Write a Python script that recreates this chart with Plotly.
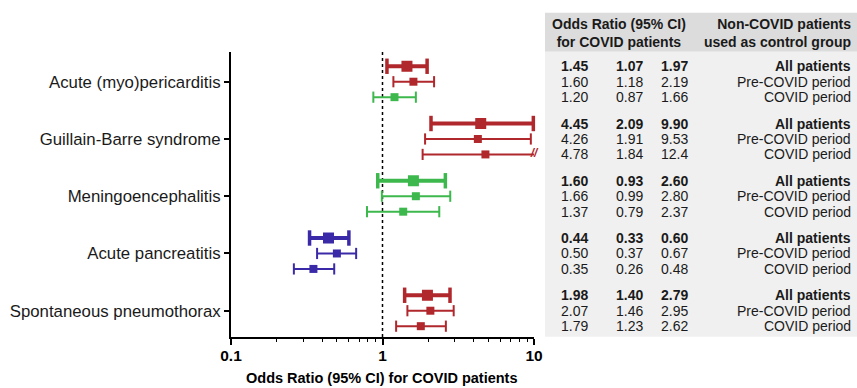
import plotly.graph_objects as go
import math

# ---------------- data ----------------
categories = ["Acute (myo)pericarditis", "Guillain-Barre syndrome", "Meningoencephalitis",
              "Acute pancreatitis", "Spontaneous pneumothorax"]
control_groups = ["All patients", "Pre-COVID period", "COVID period"]

or_all = [1.45, 4.45, 1.60, 0.44, 1.98]
lo_all = [1.07, 2.09, 0.93, 0.33, 1.40]
hi_all = [1.97, 9.90, 2.60, 0.60, 2.79]

or_pre = [1.60, 4.26, 1.66, 0.50, 2.07]
lo_pre = [1.18, 1.91, 0.99, 0.37, 1.46]
hi_pre = [2.19, 9.53, 2.80, 0.67, 2.95]

or_cov = [1.20, 4.78, 1.37, 0.35, 1.79]
lo_cov = [0.87, 1.84, 0.79, 0.26, 1.23]
hi_cov = [1.66, 12.4, 2.37, 0.48, 2.62]

x_ticks = [0.1, 1, 10]
x_tick_labels = ["0.1", "1", "10"]
minor_ticks = [0.2, 0.3, 0.4, 0.5, 0.6, 0.7, 0.8, 0.9, 2, 3, 4, 5, 6, 7, 8, 9]

# ---------------- layout constants ----------------
W, H = 857, 388
XMIN, XMAX = 0.1, 10
Y_TOP, Y_BOT = -0.519, 4.459
OFFSETS = [-0.27, 0.0, 0.27]
RED, GREEN, BLUE = "#b0272c", "#3cb84c", "#3a2aa8"
TXT = "#1a1a1a"
FONT = "Arial, Liberation Sans, sans-serif"
TFS = 14

def px(xp):
    return xp / W

def py(yp):
    return 1 - yp / H

series = [
    (or_all, lo_all, hi_all, True),
    (or_pre, lo_pre, hi_pre, False),
    (or_cov, lo_cov, hi_cov, False),
]

fig = go.Figure()

# reference line at OR = 1
fig.add_trace(go.Scatter(x=[1, 1], y=[Y_TOP, Y_BOT], mode="lines",
                         line=dict(color="black", width=1.5, dash="dot"),
                         hoverinfo="skip", showlegend=False))

annotations = []
for gi, cat in enumerate(categories):
    for ri, (orv, lov, hiv, bold) in enumerate(series):
        o, lo, hi = orv[gi], lov[gi], hiv[gi]
        y = gi + OFFSETS[ri]
        if lo > 1:
            col = RED
        elif hi < 1:
            col = BLUE
        else:
            col = GREEN
        lw = 4 if bold else 2
        truncated = hi > XMAX
        hi_draw = min(hi, XMAX)
        fig.add_trace(go.Scatter(x=[lo, hi_draw], y=[y, y], mode="lines",
                                 line=dict(color=col, width=lw),
                                 cliponaxis=False, hoverinfo="skip", showlegend=False))
        caps = [lo] if truncated else [lo, hi_draw]
        fig.add_trace(go.Scatter(x=caps, y=[y] * len(caps), mode="markers",
                                 marker=dict(symbol="line-ns", size=11 if bold else 8,
                                             line=dict(color=col, width=3.5 if bold else 2)),
                                 cliponaxis=False, hoverinfo="skip", showlegend=False))
        fig.add_trace(go.Scatter(x=[o], y=[y], mode="markers",
                                 marker=dict(symbol="square", size=11 if bold else 8, color=col,
                                             line=dict(width=0)),
                                 cliponaxis=False, hoverinfo="skip", showlegend=False))
        if truncated:
            fig.add_trace(go.Scatter(x=[XMAX], y=[y], mode="text", text=["<b><i>//</i></b>"],
                                     textposition="middle center",
                                     textfont=dict(color=col, size=12, family=FONT),
                                     cliponaxis=False, hoverinfo="skip", showlegend=False))

        # table text
        wt = "<b>%s</b>" if bold else "%s"
        vals = ["%.2f" % o, "%.2f" % lo, ("%.1f" % hi) if hi >= 10 else ("%.2f" % hi)]
        for xc, v in zip([574.5, 629.5, 674], vals):
            annotations.append(dict(x=px(xc), y=y, xref="paper", yref="y", text=wt % v,
                                    showarrow=False, xanchor="center", yanchor="middle",
                                    font=dict(size=TFS, color=TXT, family=FONT)))
        annotations.append(dict(x=px(853), y=y, xref="paper", yref="y",
                                text=wt % control_groups[ri], showarrow=False,
                                xanchor="right", yanchor="middle",
                                font=dict(size=TFS, color=TXT, family=FONT)))

# table header
annotations.append(dict(x=px(619), y=py(33), xref="paper", yref="paper",
                        text="<b>Odds Ratio (95% CI)<br>for COVID patients</b>",
                        showarrow=False, xanchor="center", yanchor="middle", align="center",
                        font=dict(size=TFS, color=TXT, family=FONT)))
annotations.append(dict(x=px(853), y=py(33), xref="paper", yref="paper",
                        text="<b>Non-COVID patients<br>used as control group</b>",
                        showarrow=False, xanchor="right", yanchor="middle", align="right",
                        font=dict(size=TFS, color=TXT, family=FONT)))
# x axis title
annotations.append(dict(x=px(381.5), y=py(378), xref="paper", yref="paper",
                        text="<b>Odds Ratio (95% CI) for COVID patients</b>",
                        showarrow=False, xanchor="center", yanchor="middle",
                        font=dict(size=14.5, color="black", family=FONT)))

shapes = [
    dict(type="rect", xref="paper", yref="paper", x0=px(545), x1=px(857),
         y0=py(51.7), y1=py(12.7), fillcolor="#dcdcdc", line=dict(width=0), layer="below"),
    dict(type="rect", xref="paper", yref="paper", x0=px(545), x1=px(857),
         y0=py(336.7), y1=py(51.7), fillcolor="#f0f0f0", line=dict(width=0), layer="below"),
]

fig.update_layout(
    width=W, height=H,
    margin=dict(l=0, r=0, t=0, b=0),
    paper_bgcolor="white", plot_bgcolor="rgba(0,0,0,0)",
    showlegend=False,
    annotations=annotations,
    shapes=shapes,
    font=dict(family=FONT, color=TXT),
    xaxis=dict(type="log", range=[math.log10(XMIN), math.log10(XMAX)],
               domain=[px(231), px(534)], automargin=False,
               tickvals=x_ticks, ticktext=["<b>%s</b>" % t for t in x_tick_labels],
               tickfont=dict(size=15.5, color="black", family=FONT),
               ticks="outside", ticklen=6, tickwidth=1.5, tickcolor="black",
               ticklabelstandoff=-3,
               minor=dict(tickvals=minor_ticks, ticks="outside", ticklen=3, tickwidth=1.2,
                          tickcolor="black"),
               showline=True, linewidth=2, linecolor="black",
               showgrid=False, zeroline=False),
    yaxis=dict(range=[Y_BOT, Y_TOP], domain=[py(337), py(52)], automargin=False,
               tickvals=list(range(len(categories))), ticktext=categories,
               tickfont=dict(size=16.8, color=TXT, family=FONT),
               ticks="outside", ticklen=5, tickwidth=1.5, tickcolor="black",
               showline=True, linewidth=2, linecolor="black",
               showgrid=False, zeroline=False),
)

fig.write_html("out.html", config={"displayModeBar": False},
               post_script="document.body.style.margin='0px';document.body.style.overflow='hidden';")
